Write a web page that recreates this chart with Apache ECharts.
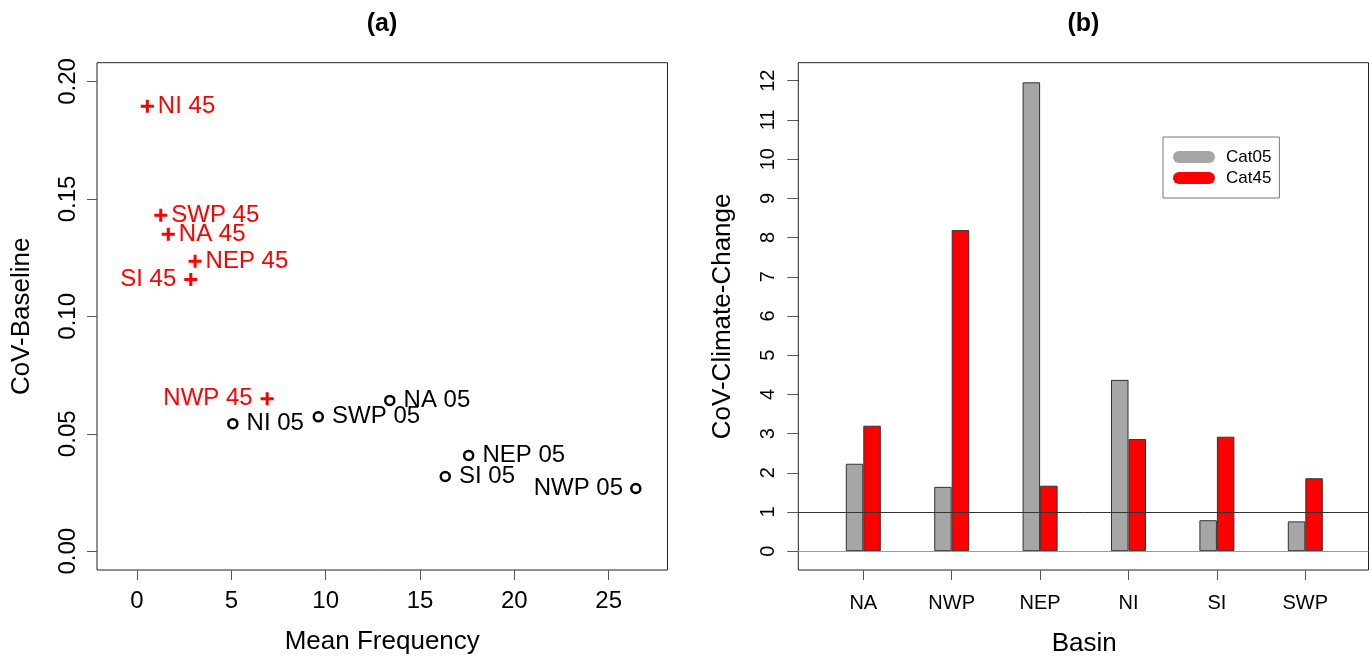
<!DOCTYPE html>
<html><head><meta charset="utf-8">
<script src="https://cdn.jsdelivr.net/npm/echarts@6.0.0/dist/echarts.min.js"></script>
<style>html,body{margin:0;padding:0;background:#fff}#c{width:1370px;height:658px}</style>
</head><body><div id="c"></div>
<script>
// ---- Panel (a) data ----
const basins45 = ['NI', 'SWP', 'NA', 'NEP', 'SI', 'NWP'];
const freq45 = [0.55, 1.26, 1.66, 3.08, 2.85, 6.90];
const cov45 = [0.1895, 0.1430, 0.1350, 0.1235, 0.1157, 0.0649];
const basins05 = ['NI', 'SWP', 'NA', 'NEP', 'SI', 'NWP'];
const freq05 = [5.08, 9.61, 13.40, 17.58, 16.34, 26.44];
const cov05 = [0.0543, 0.0572, 0.0642, 0.0408, 0.0318, 0.0267];
const xTicksA = [0, 5, 10, 15, 20, 25];
const yTicksA = [0, 0.05, 0.10, 0.15, 0.20];
// ---- Panel (b) data ----
const barBasins = ['NA', 'NWP', 'NEP', 'NI', 'SI', 'SWP'];
const cat05 = [2.23, 1.64, 11.96, 4.37, 0.79, 0.76];
const cat45 = [3.20, 8.19, 1.67, 2.86, 2.92, 1.86];
const yTicksB = [0, 1, 2, 3, 4, 5, 6, 7, 8, 9, 10, 11, 12];
const refLines = [0, 1];

// label sides (style)
const leftSide45 = ['SI', 'NWP'];
const leftSide05 = ['NWP'];

const FONT = 'Liberation Sans, Arial, sans-serif';
const BOX = '#222';
const TICK = '#555';
const PLUS = 'path://M5,0 H8 V5 H13 V8 H8 V13 H5 V8 H0 V5 H5 Z';
const PILL = 'path://M6,0 H36 A6,6 0 0 1 36,12 H6 A6,6 0 0 1 6,0 Z';

const plotTop = 62.7, plotH = 507.3;

const pts45 = basins45.map((b, i) => ({
  value: [freq45[i], cov45[i]], name: b + ' 45',
  label: leftSide45.includes(b) ? {position: 'left', distance: 8} : {position: 'right', distance: 4}
}));
const pts05 = basins05.map((b, i) => ({
  value: [freq05[i], cov05[i]], name: b + ' 05',
  label: leftSide05.includes(b) ? {position: 'left', distance: 7} : {position: 'right', distance: 8}
}));

const chart = echarts.init(document.getElementById('c'), null, {renderer: 'canvas'});
chart.setOption({
  animation: false,
  backgroundColor: '#fff',
  textStyle: {fontFamily: FONT},
  graphic: [
    {type: 'text', x: 382, y: 24, style: {text: '(a)', align: 'center', verticalAlign: 'middle', font: 'bold 25px ' + FONT, fill: '#000'}},
    {type: 'text', x: 1083.4, y: 24, style: {text: '(b)', align: 'center', verticalAlign: 'middle', font: 'bold 25px ' + FONT, fill: '#000'}}
  ],
  legend: {
    data: ['Cat05', 'Cat45'],
    orient: 'vertical',
    left: 1163, top: 137,
    padding: [11, 8, 11, 10],
    itemGap: 3,
    itemWidth: 42, itemHeight: 12,
    icon: PILL,
    itemStyle: {borderWidth: 0},
    backgroundColor: '#fff',
    borderColor: '#777', borderWidth: 1, borderRadius: 0,
    textStyle: {fontSize: 17, color: '#000', fontFamily: FONT, lineHeight: 18, padding: [0, 0, 0, 6]}
  },
  grid: [
    {left: 97, top: plotTop, width: 570.5, height: plotH, show: true, borderColor: BOX, borderWidth: 1, backgroundColor: 'transparent', containLabel: false, outerBoundsMode: 'none'},
    {left: 798.3, top: plotTop, width: 570.2, height: plotH, show: true, borderColor: BOX, borderWidth: 1, backgroundColor: 'transparent', containLabel: false, outerBoundsMode: 'none'},
    {left: 819.1, top: plotTop, width: 530.4, height: plotH, containLabel: false, outerBoundsMode: 'none'}
  ],
  xAxis: [
    {
      type: 'value', gridIndex: 0, min: -2.12, max: 28.12,
      splitLine: {show: false}, axisLine: {show: false, onZero: false},
      axisTick: {show: true, customValues: xTicksA, length: 10, lineStyle: {color: TICK}},
      axisLabel: {customValues: xTicksA, fontSize: 24, color: '#000', margin: 19, fontFamily: FONT},
      name: 'Mean Frequency', nameLocation: 'middle', nameGap: 59,
      nameTextStyle: {fontSize: 26, color: '#000', fontFamily: FONT}
    },
    {type: 'value', gridIndex: 1, min: 0, max: 1, show: false, axisLine: {onZero: false}},
    {
      type: 'category', gridIndex: 2, data: barBasins,
      axisLine: {show: false, onZero: false},
      axisTick: {show: true, alignWithLabel: true, length: 10, lineStyle: {color: TICK}},
      axisLabel: {fontSize: 20, color: '#000', margin: 23, fontFamily: FONT},
      name: 'Basin', nameLocation: 'middle', nameGap: 61,
      nameTextStyle: {fontSize: 26, color: '#000', fontFamily: FONT}
    }
  ],
  yAxis: [
    {
      type: 'value', gridIndex: 0, min: -0.008, max: 0.208,
      splitLine: {show: false}, axisLine: {show: false, onZero: false},
      axisTick: {show: true, customValues: yTicksA, length: 10, lineStyle: {color: TICK}},
      axisLabel: {customValues: yTicksA, rotate: 90, fontSize: 24, color: '#000', margin: 17,
        formatter: v => Number(v).toFixed(2), fontFamily: FONT},
      name: 'CoV-Baseline', nameLocation: 'middle', nameGap: 62, nameRotate: 90,
      nameTextStyle: {fontSize: 26, color: '#000', fontFamily: FONT}
    },
    {
      type: 'value', gridIndex: 1, min: -0.48, max: 12.46,
      splitLine: {show: false}, axisLine: {show: false, onZero: false},
      axisTick: {show: true, customValues: yTicksB, length: 11, lineStyle: {color: TICK}},
      axisLabel: {customValues: yTicksB, rotate: 90, fontSize: 20, color: '#000', margin: 20, fontFamily: FONT},
      name: 'CoV-Climate-Change', nameLocation: 'middle', nameGap: 62, nameRotate: 90,
      nameTextStyle: {fontSize: 26, color: '#000', fontFamily: FONT}
    },
    {type: 'value', gridIndex: 2, min: -0.48, max: 12.46, show: false, axisLine: {onZero: false}}
  ],
  series: [
    {
      type: 'scatter', name: 'Cat45pts', xAxisIndex: 0, yAxisIndex: 0,
      symbol: PLUS, symbolSize: 13, itemStyle: {color: '#ff0000', opacity: 1},
      data: pts45,
      label: {show: true, formatter: p => p.name, fontSize: 24, color: '#ff0000', fontFamily: FONT}
    },
    {
      type: 'scatter', name: 'Cat05pts', xAxisIndex: 0, yAxisIndex: 0,
      symbol: 'circle', symbolSize: 9,
      itemStyle: {color: '#fff', borderColor: '#000', borderWidth: 2.5, opacity: 1},
      data: pts05,
      label: {show: true, formatter: p => p.name, fontSize: 24, color: '#000', fontFamily: FONT}
    },
    {
      type: 'line', name: 'ref', xAxisIndex: 1, yAxisIndex: 1, data: [], z: 1,
      markLine: {
        silent: true, symbol: 'none', animation: false,
        label: {show: false},
        data: refLines.map(v => ({yAxis: v, lineStyle: {color: v === 0 ? '#9a9a9a' : '#333', width: 1, type: 'solid'}}))
      }
    },
    {
      type: 'bar', name: 'Cat05', xAxisIndex: 2, yAxisIndex: 2, data: cat05, z: 3,
      barWidth: 17.5, barGap: '0%',
      itemStyle: {color: '#a6a6a6', borderColor: '#333', borderWidth: 1}
    },
    {
      type: 'bar', name: 'Cat45', xAxisIndex: 2, yAxisIndex: 2, data: cat45, z: 3,
      barWidth: 17.5, barGap: '0%',
      itemStyle: {color: '#ff0000', borderColor: '#333', borderWidth: 1}
    }
  ]
});
</script>
</body></html>
